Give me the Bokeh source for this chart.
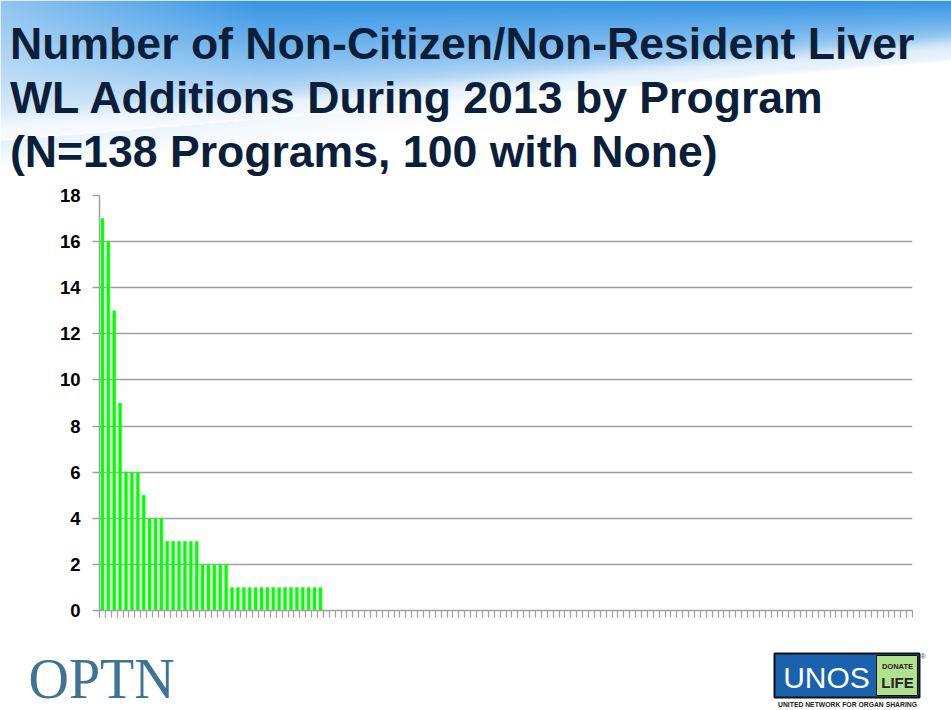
import numpy as np
from bokeh.plotting import figure
from bokeh.layouts import column
from bokeh.models import Range1d, FixedTicker, Label
from bokeh.embed import file_html
from bokeh.resources import INLINE

# ---------------- data ----------------
title_lines = [
    "Number of Non-Citizen/Non-Resident Liver",
    "WL Additions During 2013 by Program",
    "(N=138 Programs, 100 with None)",
]
nonzero_counts = [17, 16, 13, 9, 6, 6, 6, 5, 4, 4, 4,
                  3, 3, 3, 3, 3, 3, 2, 2, 2, 2, 2,
                  1, 1, 1, 1, 1, 1, 1, 1, 1, 1, 1, 1, 1, 1, 1, 1]
programs_with_none = 100
counts = nonzero_counts + [0] * programs_with_none
n_programs = len(counts)
y_ticks = [0, 2, 4, 6, 8, 10, 12, 14, 16, 18]

W = 951
H_HEAD, H_CHART, H_FOOT = 184, 446, 80
CHART_TOP = H_HEAD
FOOT_TOP = H_HEAD + H_CHART


def mid(baseline, size, k=0.35):
    # vertical middle of a text line whose baseline is given
    return baseline - k * size


# ---------------- header ----------------
head = figure(width=W, height=H_HEAD, x_range=Range1d(0, W), y_range=Range1d(H_HEAD, 0),
              min_border=0, x_axis_type=None, y_axis_type=None, toolbar_location=None,
              output_backend="svg", outline_line_color=None, frame_align=False)
head.xgrid.visible = False
head.ygrid.visible = False

rows, cols = np.mgrid[0:H_HEAD, 0:W]
py = rows.astype(float)
px = cols.astype(float)
curve = 140.0 - 80.0 * (px / 951.0)
f = np.clip((curve - py) / curve, 0, 1) ** 0.7
left_pale = 0.55 + 0.45 * np.clip(px / 260.0, 0, 1)
a = 0.9 * f * left_pale
streak = np.exp(-((py - (curve - 12)) / 10.0) ** 2) * 0.5
a = np.clip(a * (1 - streak), 0, 1)
below = np.clip((py - curve) / 30.0, 0, 1)
a = a + 0.12 * (1 - below) * (py > curve) * (1 - np.clip(px / 600.0, 0, 1))
a = a * np.clip((180.0 - py) / 25.0, 0, 1)
a = np.clip(a, 0, 1)
blue = np.array([32, 138, 226])
img = np.empty((H_HEAD, W), dtype=np.uint32)
view = img.view(dtype=np.uint8).reshape((H_HEAD, W, 4))
for k in range(3):
    view[:, :, k] = (255 * (1 - a) + blue[k] * a).astype(np.uint8)
view[:, :, 3] = 255
head.image_rgba(image=[img], x=0, y=0, dw=W, dh=H_HEAD)

TS = 44.6
for i, line in enumerate(title_lines):
    head.add_layout(Label(x=9.5, y=mid(58.5 + 54 * i, TS), text=line, text_font="Liberation Sans",
                          text_font_style="bold", text_font_size=f"{TS}px",
                          text_color="#0b1f3b", text_baseline="middle"))

# ---------------- chart ----------------
p = figure(width=W, height=H_CHART, x_range=Range1d(0, n_programs), y_range=Range1d(0, 18),
           min_border_left=99, min_border_right=39, min_border_top=195 - CHART_TOP,
           min_border_bottom=CHART_TOP + H_CHART - 610,
           toolbar_location=None, output_backend="svg", outline_line_color=None,
           background_fill_color="white", border_fill_color="white", frame_align=False)
xs = [i + 0.5 for i in range(n_programs)]
p.vbar(x=xs, top=counts, width=0.52, fill_color="#00ff00", line_color="#33ff33", line_width=0.5)

p.yaxis.ticker = FixedTicker(ticks=y_ticks)
p.xaxis.ticker = FixedTicker(ticks=[], minor_ticks=list(range(n_programs + 1)))
p.yaxis.minor_tick_line_color = None
for ax in (p.xaxis, p.yaxis):
    ax.axis_line_color = "#a0a0a0"
    ax.axis_line_width = 1.5
    ax.major_tick_line_color = "#a0a0a0"
    ax.major_tick_line_width = 1.5
    ax.major_tick_in = 0
    ax.major_tick_out = 7
p.xaxis.minor_tick_line_color = "#a0a0a0"
p.xaxis.minor_tick_line_width = 1.2
p.xaxis.minor_tick_in = 0
p.xaxis.minor_tick_out = 7
p.yaxis.major_label_text_font = "Liberation Sans"
p.yaxis.major_label_text_font_style = "bold"
p.yaxis.major_label_text_font_size = "18.5px"
p.yaxis.major_label_text_color = "#000000"
p.yaxis.major_label_standoff = 12
p.xgrid.visible = False
p.ygrid.ticker = FixedTicker(ticks=y_ticks)
p.ygrid.grid_line_color = "#a0a0a0"
p.ygrid.grid_line_width = 1.5

# ---------------- footer ----------------
foot = figure(width=W, height=H_FOOT, x_range=Range1d(0, W), y_range=Range1d(H_FOOT, 0),
              min_border=0, x_axis_type=None, y_axis_type=None, toolbar_location=None,
              output_backend="svg", outline_line_color=None, frame_align=False)
foot.xgrid.visible = False
foot.ygrid.visible = False
ft = FOOT_TOP
foot.add_layout(Label(x=28, y=mid(698, 56, 0.34) - ft, text="OPTN", text_font="Liberation Serif",
                      text_font_size="56px", text_color="#3f7394", text_baseline="middle"))
foot.quad(left=[774], right=[919], top=[653 - ft], bottom=[697 - ft], fill_color="#1a62ad",
          line_color="#111111", line_width=2)
foot.quad(left=[876], right=[917], top=[655 - ft], bottom=[695 - ft], fill_color="#b2e08f",
          line_color="#111111", line_width=1)
foot.add_layout(Label(x=826, y=mid(687, 30) - ft, text="UNOS", text_font="Liberation Sans",
                      text_font_size="30px", text_color="white", text_align="center",
                      text_baseline="middle"))
foot.add_layout(Label(x=897, y=mid(669, 7.5) - ft, text="DONATE", text_font="Liberation Sans",
                      text_font_style="bold", text_font_size="7.5px", text_color="#222222",
                      text_align="center", text_baseline="middle"))
foot.add_layout(Label(x=897, y=mid(687, 15) - ft, text="LIFE", text_font="Liberation Sans",
                      text_font_style="bold", text_font_size="15px", text_color="#222222",
                      text_align="center", text_baseline="middle"))
foot.add_layout(Label(x=920, y=mid(658, 7) - ft, text="®", text_font="Liberation Sans",
                      text_font_size="7px", text_color="#444444", text_baseline="middle"))
foot.add_layout(Label(x=847, y=mid(706, 6.8) - ft, text="UNITED NETWORK FOR ORGAN SHARING",
                      text_font="Liberation Sans", text_font_style="bold",
                      text_font_size="6.8px", text_color="#222222", text_align="center",
                      text_baseline="middle"))

layout = column(head, p, foot, spacing=0)
open("out.html", "w").write(file_html(layout, INLINE))
